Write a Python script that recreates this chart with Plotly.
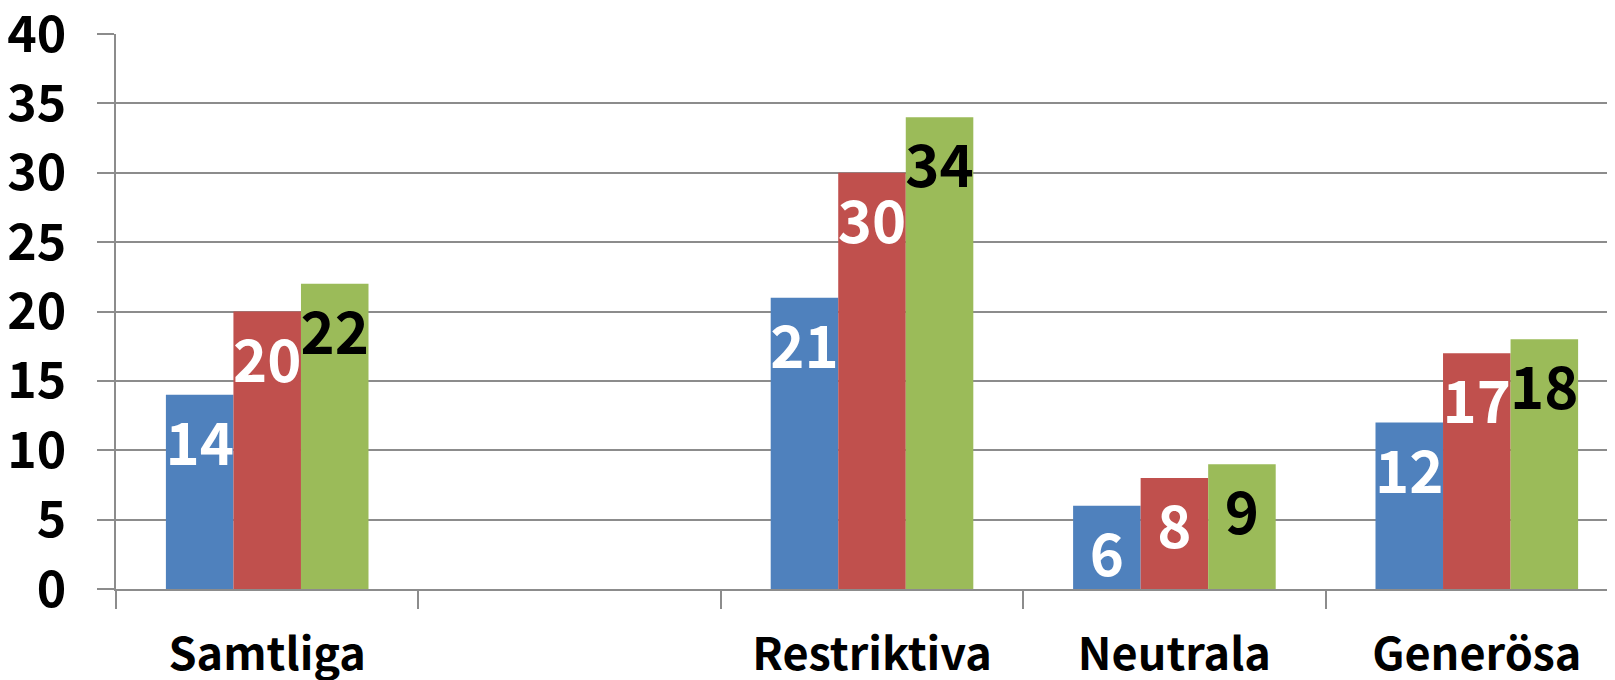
import plotly.graph_objects as go

categories = ["Samtliga", " ", "Restriktiva", "Neutrala", "Generösa"]
series_names = ["Serie 1", "Serie 2", "Serie 3"]
serie1 = [14, None, 21, 6, 12]
serie2 = [20, None, 30, 8, 17]
serie3 = [22, None, 34, 9, 18]
y_ticks = [0, 5, 10, 15, 20, 25, 30, 35, 40]

colors = ["#4F81BD", "#C0504D", "#9BBB59"]
text_colors = ["white", "white", "black"]
FONT = "Noto Sans CJK SC"

fig = go.Figure()
for name, vals, col, tcol in zip(series_names, [serie1, serie2, serie3], colors, text_colors):
    fig.add_trace(go.Bar(
        x=categories, y=vals, name=name,
        marker=dict(color=col, line=dict(width=0)),
        text=[("" if v is None else str(v)) for v in vals],
        textposition="inside", insidetextanchor="end",
        textangle=0, constraintext="none",
        textfont=dict(family=FONT, size=58, color=tcol, weight="bold"),
        hoverinfo="skip",
    ))

grid_col = "#8C8C8C"
fig.update_layout(
    width=1607, height=672,
    margin=dict(l=108, r=0, t=26, b=91, autoexpand=False),
    paper_bgcolor="white", plot_bgcolor="white",
    barmode="group", bargap=0.33, bargroupgap=0,
    showlegend=False,
    font=dict(family=FONT, color="black"),
)
fig.update_xaxes(
    type="category", categoryorder="array", categoryarray=categories,
    range=[-0.5, 4.457], automargin=False,
    showgrid=False, showline=True, linecolor=grid_col, linewidth=1.5,
    ticks="outside", tickson="boundaries", ticklen=18, tickcolor=grid_col, tickwidth=1.5,
    tickfont=dict(family=FONT, size=45, color="black", weight="bold"),
    ticklabelstandoff=25, ticklabeloverflow="allow",
)
fig.update_yaxes(
    range=[0, 40], tickvals=y_ticks, automargin=False,
    showgrid=True, gridcolor=grid_col, gridwidth=1.5,
    showline=True, linecolor=grid_col, linewidth=1.5,
    ticks="outside", ticklen=17, tickcolor=grid_col, tickwidth=1.5,
    tickfont=dict(family=FONT, size=50, color="black", weight="bold"),
    ticklabelstandoff=21, ticklabeloverflow="allow",
    zeroline=False,
)

fig.write_html("out.html")
